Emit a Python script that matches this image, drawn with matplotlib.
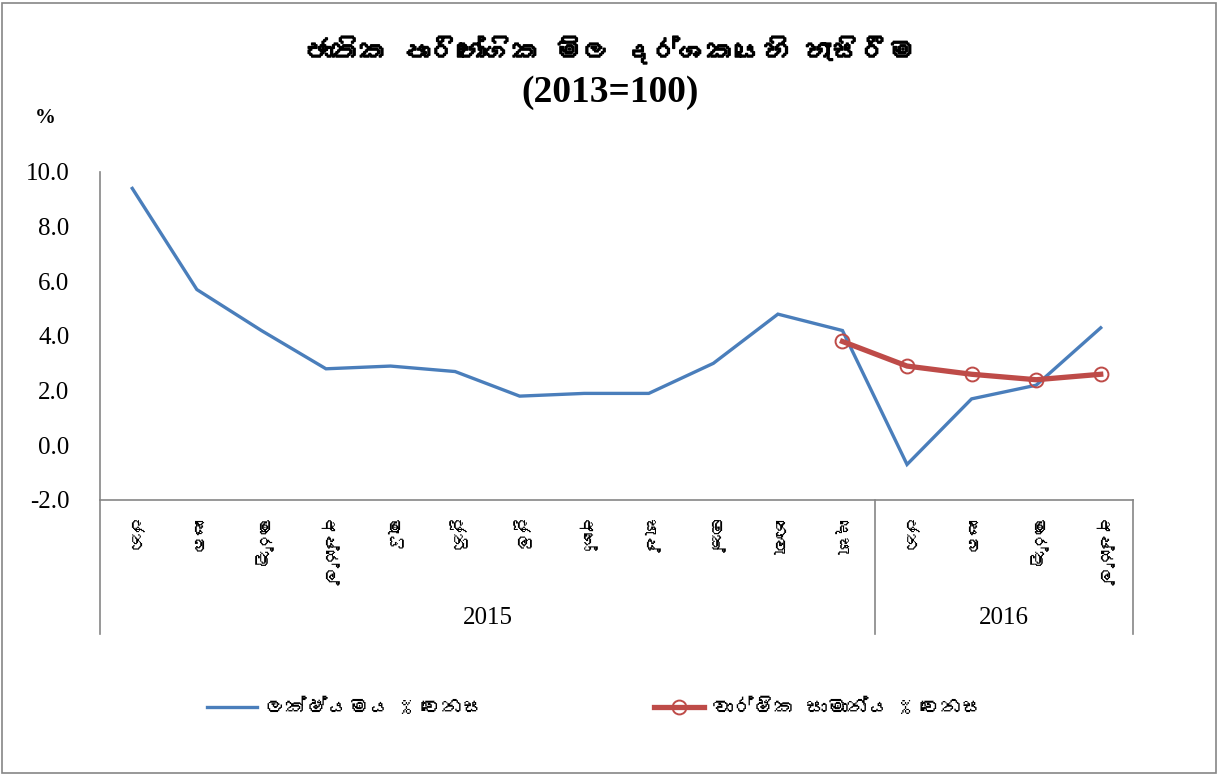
import matplotlib
matplotlib.use("Agg")
import matplotlib.pyplot as plt
import matplotlib.patheffects as pe
from matplotlib import font_manager
from matplotlib.ft2font import FT2Font
from matplotlib.patches import Rectangle

# data
months = ["ජන", "පෙබ", "මාර්තු", "අප්රේල්", "මැයි", "ජූනි", "ජූලි", "අගෝ",
          "සැප්", "ඔක්", "නොවැ", "දෙසැ",
          "ජන", "පෙබ", "මාර්තු", "අප්රේල්"]
years = ["2015", "2016"]
year_counts = [12, 4]
point_change = [9.4, 5.7, 4.2, 2.8, 2.9, 2.7, 1.8, 1.9, 1.9, 3.0, 4.8, 4.2,
                -0.7, 1.7, 2.2, 4.3]
avg_start = 11
avg_change = [3.8, 2.9, 2.6, 2.4, 2.6]
yticks = [-2.0, 0.0, 2.0, 4.0, 6.0, 8.0, 10.0]

title_si = "ජාතික පාරිභෝගික මිල දර්ශකයෙහි හැසිරීම"
title_base = "(2013=100)"
legend_labels = ["ලක්ෂ්යමය % වෙනස", "වාර්ෂික සාමාන්ය % වෙනස"]

BLUE = "#4A7EBB"
RED = "#BE4B48"
GRAY = "#868686"


def find_sinhala_font():
    for f in font_manager.fontManager.ttflist:
        try:
            if 0x0D9A in FT2Font(f.fname).get_charmap():
                return f.name
        except Exception:
            pass
    return None


si_font = find_sinhala_font()
SERIF = ["Liberation Serif", "DejaVu Serif"]
SI = ([si_font] if si_font else []) + SERIF + ["DejaVu Sans"]
plt.rcParams["font.family"] = SERIF

W, H = 1220, 774
fig = plt.figure(figsize=(W / 100, H / 100), dpi=100)
fig.patch.set_facecolor("white")
fig.patches.append(Rectangle((2 / W, 1 / H), 1214 / W, 770 / H, transform=fig.transFigure,
                             fill=False, edgecolor=GRAY, linewidth=1.2))

ax = fig.add_axes([100 / W, (H - 500) / H, 1033 / W, 328 / H])
x = list(range(len(months)))
ax.plot(x, point_change, color=BLUE, linewidth=2.4, solid_joinstyle="miter",
        label=legend_labels[0])
x_avg = x[avg_start:avg_start + len(avg_change)]
ax.plot(x_avg, avg_change, color=RED, linewidth=3.8, marker="o", markersize=10,
        markerfacecolor="none", markeredgecolor=RED, markeredgewidth=1.4,
        label=legend_labels[1])

ax.set_xlim(-0.5, len(months) - 0.5)
ax.set_ylim(-2, 10)
ax.set_yticks(yticks)
ax.set_yticklabels([f"{v:.1f}" for v in yticks], fontsize=18)
ax.tick_params(axis="y", length=0, pad=22)
ax.set_xticks(x)
ax.set_xticklabels(months, rotation=-90, fontsize=12.5, family=SI, va="top")
ax.tick_params(axis="x", length=0, pad=14)
for s in ["top", "right"]:
    ax.spines[s].set_visible(False)
for s in ["left", "bottom"]:
    ax.spines[s].set_color(GRAY)
    ax.spines[s].set_linewidth(1.2)

# group separators and year labels under the axis
tr = ax.get_xaxis_transform()
edges = [-0.5]
for c in year_counts:
    edges.append(edges[-1] + c)
for e in edges:
    ax.plot([e, e], [0, -0.41], transform=tr, color=GRAY, linewidth=1.2, clip_on=False)
for i, yr in enumerate(years):
    ax.text((edges[i] + edges[i + 1]) / 2, -0.36, yr, transform=tr, ha="center",
            va="center", fontsize=18)

ax.text(45 / W, (H - 118) / H, "%", transform=fig.transFigure, ha="center", va="center",
        fontsize=15, fontweight="bold")
fig.text(0.5, (H - 50) / H, title_si, ha="center", va="center", fontsize=20,
         fontweight="bold", family=SI,
         path_effects=[pe.withStroke(linewidth=1.1, foreground="black")])
fig.text(0.5, (H - 92) / H, title_base, ha="center", va="center", fontsize=27,
         fontweight="bold")

fig.legend(loc="center", bbox_to_anchor=(595 / W, (H - 708) / H), ncol=2, frameon=False,
           prop={"family": SI, "size": 15}, handlelength=2.4, columnspacing=8.2,
           handletextpad=0.35)

fig.savefig("out.png", dpi=100)
